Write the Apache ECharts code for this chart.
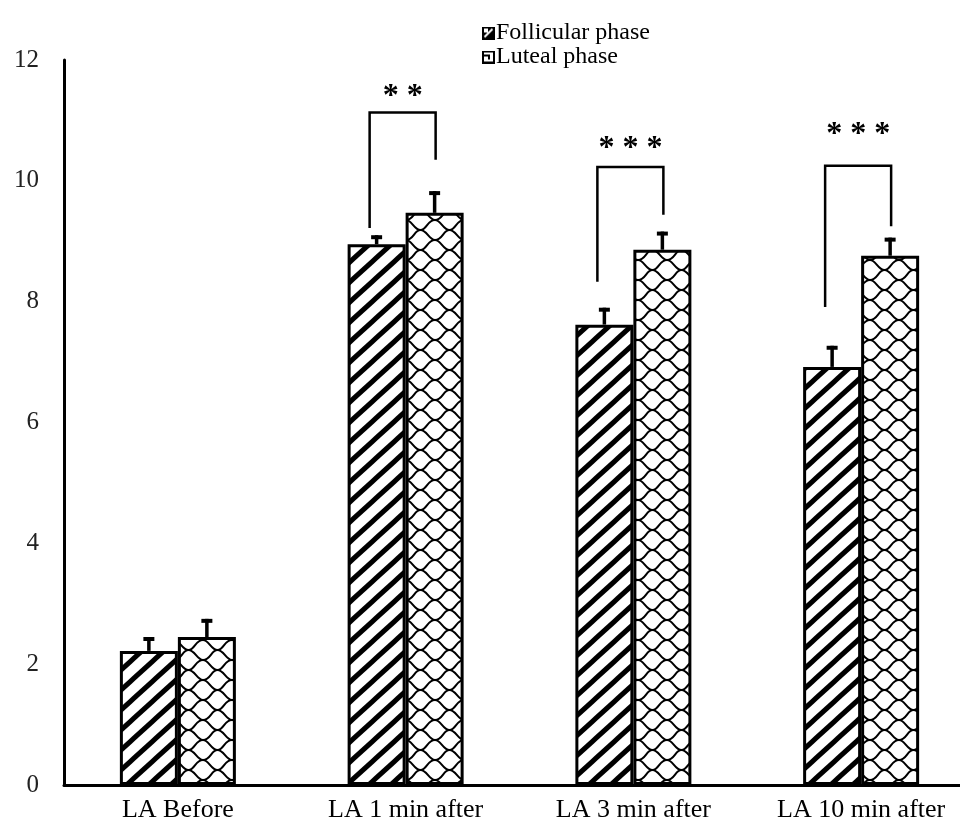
<!DOCTYPE html>
<html>
<head>
<meta charset="utf-8">
<script src="https://cdn.jsdelivr.net/npm/echarts@6/dist/echarts.min.js"></script>
<style>
html,body{margin:0;padding:0;background:#fff;overflow:hidden;width:960px;height:828px;}
#chart{width:985px;height:828px;}
</style>
</head>
<body>
<div id="chart"></div>
<script>
var categories = ['LA Before', 'LA 1 min after', 'LA 3 min after', 'LA 10 min after'];
var follicular = [2.22, 8.95, 7.62, 6.92];
var follicularErr = [0.23, 0.15, 0.28, 0.35];
var luteal = [2.45, 9.47, 8.86, 8.76];
var lutealErr = [0.30, 0.36, 0.30, 0.30];
// significance brackets: [category index, left bottom, top, right bottom, star label y]
var brackets = [
  [1, 9.22, 11.13, 10.35, 11.5],
  [2, 8.33, 10.23, 9.44, 10.65],
  [3, 7.91, 10.25, 9.25, 10.88]
];
var stars = ['', '* *', '* * *', '* * *'];
var yTicks = { min: 0, max: 12, interval: 2 };

function hatchPattern() {
  var c = document.createElement('canvas');
  var w = 22, h = 20;
  c.width = w; c.height = h;
  var ctx = c.getContext('2d');
  ctx.fillStyle = '#fff'; ctx.fillRect(0, 0, w, h);
  ctx.strokeStyle = '#000'; ctx.lineWidth = 5; ctx.lineCap = 'butt';
  for (var k = -1; k <= 1; k++) {
    ctx.beginPath();
    ctx.moveTo(k * w - 2, h + 2 * h / w);
    ctx.lineTo(k * w + w + 2, -2 * h / w);
    ctx.stroke();
  }
  return c;
}
function scalePattern() {
  var c = document.createElement('canvas');
  var w = 29, h = 20;
  c.width = w; c.height = h;
  var ctx = c.getContext('2d');
  ctx.fillStyle = '#fff'; ctx.fillRect(0, 0, w, h);
  ctx.strokeStyle = '#000'; ctx.lineWidth = 2;
  ctx.beginPath();
  ctx.moveTo(0, 0); ctx.bezierCurveTo(6, 0, 8, 10, 14.5, 10);
  ctx.moveTo(14.5, 10); ctx.bezierCurveTo(21, 10, 21, 0, 29, 0);
  ctx.moveTo(14.5, 10); ctx.bezierCurveTo(8, 10, 8, 20, 0, 20);
  ctx.moveTo(14.5, 10); ctx.bezierCurveTo(21, 10, 23, 20, 29, 20);
  ctx.stroke();
  return c;
}
function iconFollicular() {
  var c = document.createElement('canvas'); c.width = 13; c.height = 13;
  var ctx = c.getContext('2d');
  ctx.fillStyle = '#000'; ctx.fillRect(0, 0, 13, 13);
  ctx.strokeStyle = '#fff'; ctx.lineWidth = 2;
  ctx.beginPath(); ctx.moveTo(2.5, 10.5); ctx.lineTo(10.5, 2.5); ctx.stroke();
  ctx.fillStyle = '#fff'; ctx.fillRect(2, 2, 4, 4);
  return c.toDataURL();
}
function iconLuteal() {
  var c = document.createElement('canvas'); c.width = 13; c.height = 13;
  var ctx = c.getContext('2d');
  ctx.fillStyle = '#fff'; ctx.fillRect(0, 0, 13, 13);
  ctx.strokeStyle = '#000'; ctx.lineWidth = 2;
  ctx.strokeRect(1, 1, 11, 11);
  ctx.fillStyle = '#000'; ctx.fillRect(2, 4, 5, 2); ctx.fillRect(6, 4, 2, 5);
  return c.toDataURL();
}

var chart = echarts.init(document.getElementById('chart'), null, { renderer: 'canvas' });
var serif = '"Liberation Serif", "DejaVu Serif", serif';
var BW = 58;

function errorRender(side) {
  return function (params, api) {
    var i = api.value(0);
    var base = api.coord([i, api.value(1)]);
    var top = api.coord([i, api.value(1) + api.value(2)]);
    var x = base[0] + side * BW / 2;
    return {
      type: 'group',
      children: [
        { type: 'line', shape: { x1: x, y1: base[1], x2: x, y2: top[1] }, style: { stroke: '#000', lineWidth: 3.5 } },
        { type: 'line', shape: { x1: x - 5.5, y1: top[1] + 2, x2: x + 5.5, y2: top[1] + 2 }, style: { stroke: '#000', lineWidth: 4 } }
      ]
    };
  };
}

var option = {
  backgroundColor: '#fff',
  animation: false,
  legend: {
    orient: 'vertical',
    left: 477,
    top: 16,
    itemWidth: 13,
    itemHeight: 13,
    itemGap: 0,
    data: [
      { name: 'Follicular phase', icon: 'image://' + iconFollicular() },
      { name: 'Luteal phase', icon: 'image://' + iconLuteal() }
    ],
    textStyle: { fontFamily: serif, fontSize: 24, lineHeight: 24, color: '#000', padding: [0, 0, 0, -4] }
  },
  grid: { left: 64, top: 60, width: 911, height: 725, containLabel: false },
  xAxis: {
    type: 'category',
    data: categories,
    axisLine: { show: true, lineStyle: { color: '#000', width: 3 } },
    axisTick: { show: false },
    axisLabel: { fontFamily: serif, fontSize: 26, color: '#000', margin: 12 }
  },
  yAxis: {
    type: 'value',
    min: yTicks.min, max: yTicks.max, interval: yTicks.interval,
    axisLine: { show: true, lineStyle: { color: '#000', width: 3 } },
    axisTick: { show: false },
    splitLine: { show: false },
    axisLabel: { fontFamily: serif, fontSize: 25, color: '#222', margin: 25 }
  },
  series: [
    {
      name: 'Follicular phase', type: 'bar', data: follicular, barWidth: BW, barGap: '0%',
      itemStyle: { color: { image: hatchPattern(), repeat: 'repeat' }, borderColor: '#000', borderWidth: 3 }
    },
    {
      name: 'Luteal phase', type: 'bar', data: luteal, barWidth: BW, barGap: '0%',
      itemStyle: { color: { image: scalePattern(), repeat: 'repeat' }, borderColor: '#000', borderWidth: 3 }
    },
    {
      type: 'custom', silent: true, z: 5,
      data: follicular.map(function (v, i) { return [i, v, follicularErr[i]]; }),
      renderItem: errorRender(-1)
    },
    {
      type: 'custom', silent: true, z: 5,
      data: luteal.map(function (v, i) { return [i, v, lutealErr[i]]; }),
      renderItem: errorRender(1)
    },
    {
      type: 'custom', silent: true, z: 6,
      data: brackets,
      renderItem: function (params, api) {
        var i = api.value(0);
        var lb = api.coord([i, api.value(1)]);
        var tp = api.coord([i, api.value(2)]);
        var rb = api.coord([i, api.value(3)]);
        var sy = api.coord([i, api.value(4)]);
        var xl = lb[0] - BW / 2 - 7;
        var xr = lb[0] + BW / 2 + 1;
        return {
          type: 'group',
          children: [
            { type: 'polyline', shape: { points: [[xl, lb[1]], [xl, tp[1]], [xr, tp[1]], [xr, rb[1]]] }, style: { stroke: '#000', lineWidth: 2.5, fill: null } },
            { type: 'text', style: { text: stars[i], x: (xl + xr) / 2, y: sy[1] + 7, align: 'center', verticalAlign: 'middle', font: 'bold 32px ' + serif, fill: '#000' } }
          ]
        };
      }
    }
  ]
};
chart.setOption(option);
</script>
</body>
</html>
